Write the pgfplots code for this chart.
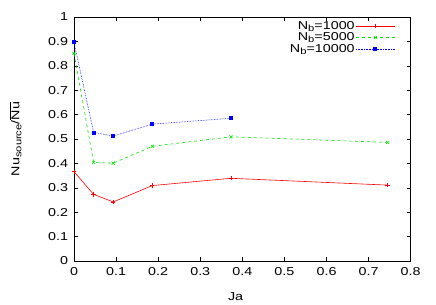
\documentclass[border=0pt]{standalone}
\usepackage{fontspec}
\setmainfont{Liberation Sans}[FakeStretch=1.25]
\usepackage{pgfplots}
\pgfplotsset{compat=1.18}
\definecolor{gpred}{RGB}{255,0,0}
\definecolor{gpgreen}{RGB}{0,230,0}
\definecolor{gpblue}{RGB}{0,0,255}
\newcommand\sub[1]{\raisebox{-0.35ex}{\fontsize{9}{10}\selectfont #1}}
\begin{document}
\fontsize{11}{13}\selectfont
\begin{tikzpicture}
\useasboundingbox (-74bp,-44bp) rectangle (362bp,261bp);
\begin{axis}[
  scale only axis,
  width=336.7bp, height=244bp,
  xmin=0, xmax=0.8, ymin=0, ymax=1,
  xtick={0,0.1,...,0.8}, ytick={0,0.1,...,1.0},
  xticklabels={0,0.1,0.2,0.3,0.4,0.5,0.6,0.7,0.8},
  yticklabels={0,0.1,0.2,0.3,0.4,0.5,0.6,0.7,0.8,0.9,1},
  tick align=inside,
  major tick length=4bp,
  tick style={black, line width=0.5pt},
  axis line style={black, line width=0.7pt},
  /pgf/number format/assume math mode=true,
  tick label style={font=\fontsize{11.5}{13}\selectfont},
  xticklabel style={yshift=-3bp},
  yticklabel style={xshift=-2bp},
  xlabel={Ja},
  ylabel={Nu\sub{source}/$\overline{\hbox{Nu}}$},
  label style={font=\fontsize{11.5}{13}\selectfont},
  xlabel style={at={(axis description cs:0.48,-0.145)},anchor=center},
  ylabel style={at={(axis description cs:-0.174,0.5)},anchor=center},
  legend plot pos=right,
  legend cell align=right,
  legend style={draw=none, fill=none, at={(rel axis cs:0.955,0.99)}, anchor=north east,
    font=\fontsize{11.5}{13}\selectfont, row sep=0bp, inner sep=0.5pt,
    nodes={inner sep=1pt}},
  legend image code/.code={\draw[mark repeat=2,mark phase=2] plot coordinates {(0cm,0cm) (0.68cm,0cm) (1.36cm,0cm)};},
]
\addplot[gpred, line width=0.6pt, mark=+, mark size=2.2pt, mark options={solid}] coordinates {
(0,0.366) (0.0466,0.273) (0.0932,0.242) (0.186,0.309) (0.373,0.339) (0.745,0.311)};
\addlegendentry{N\sub{b}=1000}
\addplot[gpgreen, line width=0.6pt, dashed, mark=x, mark size=2.2pt, mark options={solid}] coordinates {
(0,0.851) (0.0466,0.404) (0.0932,0.401) (0.186,0.470) (0.373,0.509) (0.745,0.486)};
\addlegendentry{N\sub{b}=5000}
\addplot[gpblue, line width=0.6pt, densely dotted, mark=square*, mark size=1.5pt, mark options={solid}] coordinates {
(0,0.897) (0.0466,0.527) (0.0932,0.512) (0.186,0.561) (0.373,0.585)};
\addlegendentry{N\sub{b}=10000}
\end{axis}
\end{tikzpicture}
\end{document}
